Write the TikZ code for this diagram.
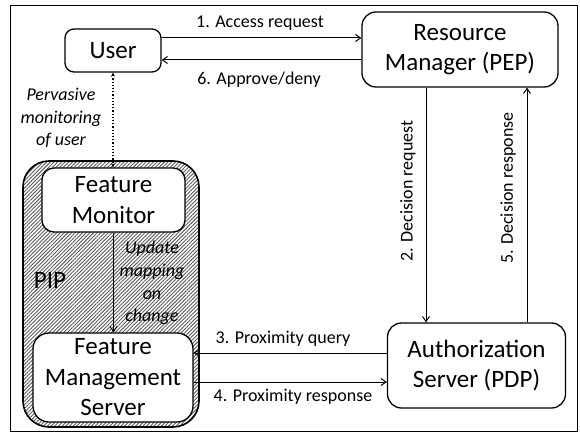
\documentclass[tikz,border=0pt]{standalone}
\usepackage{fontspec}
\setmainfont{Carlito}
\usetikzlibrary{arrows.meta,patterns.meta,calc}
\begin{document}
\begin{tikzpicture}[x=1pt,y=-1pt,
  box/.style={draw,line width=1.3pt,rounded corners=11pt,fill=white,inner sep=0pt,align=center,font=\fontsize{25}{30.5}\selectfont},
  arr/.style={line width=1pt,-{Straight Barb[length=5pt,width=7pt]}},
  lbl/.style={font=\fontsize{18}{22.7}\selectfont,inner sep=0pt,align=center},
  ilbl/.style={font=\fontsize{18}{22.7}\selectfont\itshape,inner sep=0pt,align=center}]
\useasboundingbox (0,0) rectangle (580,433);
\node[draw,line width=1pt,minimum width=567pt,minimum height=425pt,inner sep=0pt] (frame) at (293.5,218.5) {};
% PIP container
\node[draw,line width=1.6pt,rounded corners=26pt,minimum width=176pt,minimum height=266pt,inner sep=0pt,
      fill=gray!20,pattern={Lines[angle=45,distance=2.6pt,line width=0.9pt]},pattern color=black!65] (pip) at (111,294) {};
\node[font=\fontsize{25}{30}\selectfont,inner sep=0pt] (piplbl) at (50,280) {PIP};
% boxes
\node[box,minimum width=96pt,minimum height=43pt,rounded corners=9pt] (user) at (113,50.5) {User};
\node[box,minimum width=196pt,minimum height=75pt,rounded corners=14pt] (rm) at (460,49.5) {Resource\\Manager (PEP)};
\node[box,minimum width=178pt,minimum height=85pt,rounded corners=14pt] (as) at (476.5,365.5) {Authorization\\Server (PDP)};
\node[box,minimum width=143pt,minimum height=64pt,rounded corners=12pt] (fm) at (113.5,200) {Feature\\Monitor};
\node[box,minimum width=160pt,minimum height=89pt,rounded corners=16pt] (fms) at (113,377.5) {Feature\\Management\\Server};
% user <-> RM
\draw[arr] ([yshift=12.5pt]user.east) coordinate (a1) -- (a1 -| rm.west);
\draw[arr] ([yshift=-10.5pt]rm.west) coordinate (a6) -- (a6 -| user.east);
\node[lbl] (l1) at (260,23) {1. Access request};
\node[lbl] (l6) at (259,80) {6. Approve/deny};
% RM <-> AS
\draw[arr] ([xshift=-34pt]rm.south) coordinate (d2) -- (d2 |- as.north);
\draw[arr] ([xshift=67pt]rm.south) coordinate (d5) (d5 |- as.north) -- (d5);
\node[lbl,rotate=90] (l2) at (408,191) {2. Decision request};
\node[lbl,rotate=90] (l5) at (508,188) {5. Decision response};
% AS <-> FMS
\draw[arr] ([yshift=12.5pt]as.west) coordinate (p3) -- (p3 -| fms.east);
\draw[arr] ([yshift=-4.5pt]fms.east) coordinate (p4) -- (p4 -| as.west);
\node[lbl] (l3) at (283,339) {3. Proximity query};
\node[lbl] (l4) at (293,397) {4. Proximity response};
% user <-> FM (dotted)
\draw[line width=1.2pt,dotted,{Stealth[length=4pt,width=4pt]}-{Stealth[length=4pt,width=4pt]}] (user.south) -- (user.south |- fm.north);
\node[ilbl] (lp) at (61,118) {Pervasive\\monitoring\\of user};
% FM -> FMS
\draw[arr] (fm.south) coordinate (u1) -- (u1 |- fms.north);
\node[ilbl] (lu) at (152,283) {Update\\mapping\\on\\change};
\end{tikzpicture}
\end{document}
